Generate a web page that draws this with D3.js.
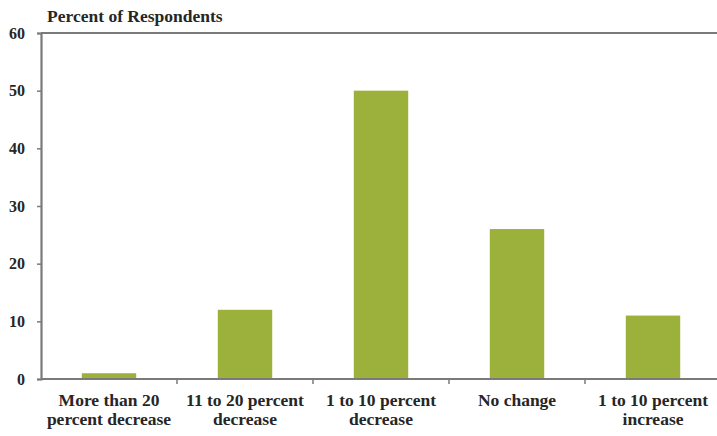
<!DOCTYPE html>
<html>
<head>
<meta charset="utf-8">
<script src="https://cdn.jsdelivr.net/npm/d3@7"></script>
</head>
<body style="margin:0; background:#fff">
<svg id="chart" width="717" height="436" style="display:block" font-family="Liberation Serif"></svg>
<script>
// Survey responses: expected change, share of respondents (percent)
const categories = [
  ["More than 20", "percent decrease"],
  ["11 to 20 percent", "decrease"],
  ["1 to 10 percent", "decrease"],
  ["No change"],
  ["1 to 10 percent", "increase"]
];
const values = [1, 12, 50, 26, 11];
const yTicks = [0, 10, 20, 30, 40, 50, 60];
const yTitle = "Percent of Respondents";

const FONT = '"Liberation Serif"';
const TEXT_COLOR = "#262626";
const svg = d3.select("#chart");
const margin = { left: 41, top: 33, bottom: 379, right: 721 };

const x = d3.scaleBand()
  .domain(d3.range(categories.length))
  .range([margin.left, margin.right])
  .paddingInner(0.6)
  .paddingOuter(0.3);

const y = d3.scaleLinear().domain([0, 60]).range([margin.bottom, margin.top]);

// bars
svg.append("g").selectAll("rect")
  .data(values)
  .join("rect")
  .attr("x", (d, i) => x(i))
  .attr("width", x.bandwidth())
  .attr("y", d => y(d))
  .attr("height", d => y(0) - y(d))
  .attr("fill", "#9bb13b");

const axisColor = "#7a7a7a";

// top frame line
svg.append("line")
  .attr("x1", margin.left).attr("x2", 717)
  .attr("y1", y(60)).attr("y2", y(60))
  .attr("stroke", axisColor).attr("stroke-width", 2.2);

// y axis
const yAxis = svg.append("g")
  .attr("transform", `translate(${margin.left},0)`)
  .call(d3.axisLeft(y).tickValues(yTicks).tickSize(4).tickPadding(12).tickFormat(d3.format("d")));
yAxis.attr("font-family", null).attr("font-size", null);
yAxis.select(".domain").attr("stroke", axisColor).attr("stroke-width", 2.2);
yAxis.selectAll(".tick line").attr("stroke", axisColor).attr("stroke-width", 1.5);
yAxis.selectAll(".tick text")
  .style("font-family", FONT)
  .style("font-weight", "bold")
  .style("font-size", "16px")
  .attr("fill", TEXT_COLOR);

// x axis: baseline plus boundary ticks between categories
const step = x.step();
svg.append("line")
  .attr("x1", margin.left).attr("x2", 717)
  .attr("y1", y(0)).attr("y2", y(0))
  .attr("stroke", axisColor).attr("stroke-width", 2.2);
svg.append("g").selectAll("line")
  .data(d3.range(1, categories.length))
  .join("line")
  .attr("x1", i => x(i) + x.bandwidth() / 2 - step / 2)
  .attr("x2", i => x(i) + x.bandwidth() / 2 - step / 2)
  .attr("y1", y(0)).attr("y2", y(0) + 5)
  .attr("stroke", axisColor).attr("stroke-width", 1.5);

// category labels
const labels = svg.append("g").selectAll("text")
  .data(categories)
  .join("text")
  .attr("text-anchor", "middle")
  .style("font-family", FONT)
  .style("font-weight", "bold")
  .style("font-size", "17.5px")
  .attr("fill", TEXT_COLOR)
  .attr("transform", (d, i) => `translate(${x(i) + x.bandwidth() / 2},406)`);
labels.selectAll("tspan")
  .data(d => d)
  .join("tspan")
  .attr("x", 0)
  .attr("dy", (d, j) => j === 0 ? 0 : 19)
  .text(d => d);

// y title
svg.append("text")
  .attr("x", 47).attr("y", 22)
  .style("font-family", FONT)
  .style("font-weight", "bold")
  .style("font-size", "17.5px")
  .attr("fill", TEXT_COLOR)
  .text(yTitle);
</script>
</body>
</html>
